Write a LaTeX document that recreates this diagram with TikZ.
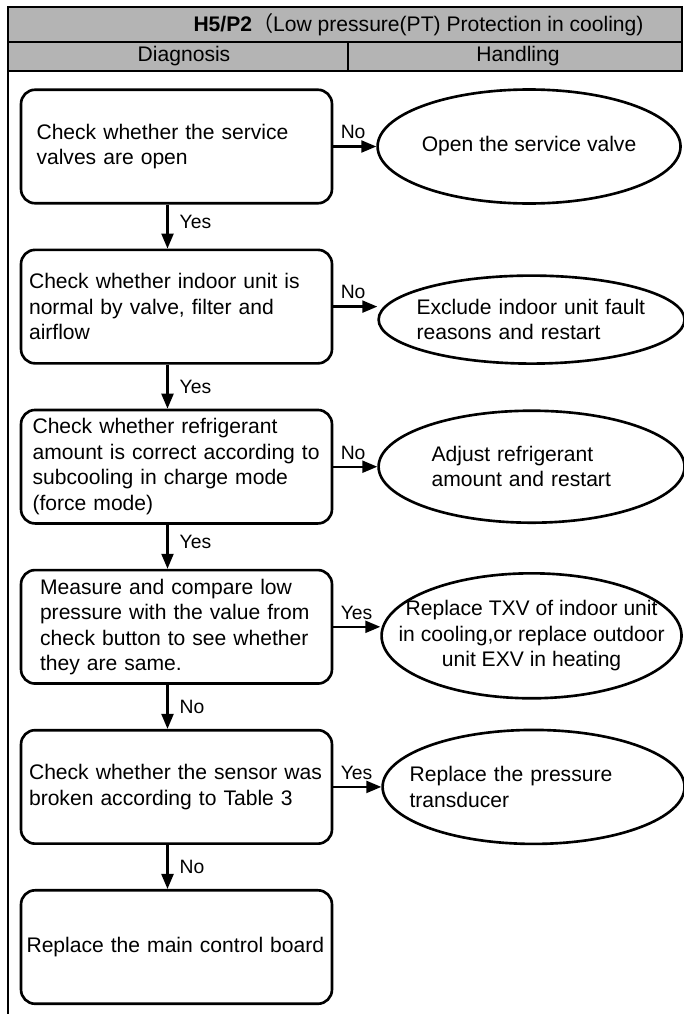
\documentclass[tikz,border=0pt]{standalone}
\usepackage{fontspec}
\setmainfont{Liberation Sans}
\newfontfamily\cjkfont{Noto Sans CJK SC}
\usepackage{xcolor}
\usepackage{tikz}
\usetikzlibrary{shapes.geometric, arrows.meta, positioning}
\definecolor{hdrgray}{RGB}{180,180,180}
\definecolor{mydark}{RGB}{0,0,0}
\tikzset{
  stepbox/.style={rectangle, draw=mydark, fill=white,
    text width=5.9cm, align=left, minimum width=6.22cm, minimum height=2.27cm,
    inner xsep=0.1cm, font=\fontsize{12}{14.5}\selectfont,
    rounded corners=8pt, line width=1.5pt},
  oval/.style={ellipse, draw=mydark, fill=white, inner xsep=-1cm, inner ysep=0pt,
    font=\fontsize{12}{14.5}\selectfont, line width=1.5pt},
  arrow/.style={-{Triangle[length=0.3cm,width=0.24cm]}, line width=1.3pt, color=mydark},
  lbl/.style={font=\fontsize{11}{13}\selectfont, inner sep=2pt},
  hdrtext/.style={font=\fontsize{12}{14}\selectfont},
  rule/.style={line width=1.4pt, color=mydark}
}

\begin{document}
\begin{tikzpicture}[x=0.02cm, y=-0.02cm]
  \useasboundingbox (0,0) rectangle (683,1014);
  % header table
  \filldraw[rule, fill=hdrgray] (8,7) rectangle (682,42);
  \filldraw[rule, fill=hdrgray] (8,42) rectangle (682,71);
  \draw[rule] (348,42) -- (348,71);
  \draw[rule] (8,71) -- (8,1014);
  \node[hdrtext] (title) at (418.5,24.5) {\textbf{H5/P2}{\cjkfont （}Low pressure(PT) Protection in cooling)};
  \node[hdrtext] (hdiag) at (184,56.5) {Diagnosis};
  \node[hdrtext] (hhand) at (518,56.5) {Handling};
  % diagnosis steps
  \node[stepbox, text width=5.6cm] (b1) at (176.5,146.5) {Check whether the service\\valves are open};
  \node[stepbox, below=0.88cm of b1] (b2) {Check whether indoor unit is\\normal by valve, filter and\\airflow};
  \node[stepbox, text width=5.76cm, below=0.88cm of b2] (b3) {Check whether refrigerant\\amount is correct according to\\subcooling in charge mode\\(force mode)};
  \node[stepbox, text width=5.46cm, below=0.88cm of b3] (b4) {Measure and compare low\\pressure with the value from\\check button to see whether\\they are same.};
  \node[stepbox, below=0.88cm of b4] (b5) {Check whether the sensor was\\broken according to Table 3};
  \node[stepbox, text width=6.0cm, below=0.88cm of b5] (b6) {Replace the main control board};
  % handling
  \node[oval, align=center, minimum width=6.06cm, minimum height=2.28cm, right=0.86cm of b1] (e1) {Open the service valve};
  \node[oval, text width=4.6cm, align=left, minimum width=6.12cm, minimum height=1.76cm, right=0.88cm of b2, yshift=-0.26cm] (e2) {Exclude indoor unit fault\\reasons and restart};
  \node[oval, text width=4.0cm, align=left, minimum width=6.12cm, minimum height=2.24cm, right=0.88cm of b3] (e3) {Adjust refrigerant\\amount and restart};
  \node[oval, align=center, minimum width=6.0cm, minimum height=2.5cm, right=0.94cm of b4, yshift=-0.18cm] (e4) {Replace TXV of indoor unit\\in cooling,or replace outdoor\\unit EXV in heating};
  \node[oval, text width=4.96cm, align=left, minimum width=6.04cm, minimum height=2.28cm, right=0.96cm of b5] (e5) {Replace the pressure\\transducer};
  % connectors
  \draw[arrow] ([xshift=-0.18cm]b1.south) -- node[lbl, right=0.15cm, pos=0.4] {Yes} ([xshift=-0.18cm]b2.north);
  \draw[arrow] ([xshift=-0.18cm]b2.south) -- node[lbl, right=0.15cm] {Yes} ([xshift=-0.18cm]b3.north);
  \draw[arrow] ([xshift=-0.18cm]b3.south) -- node[lbl, right=0.15cm, pos=0.4] {Yes} ([xshift=-0.18cm]b4.north);
  \draw[arrow] ([xshift=-0.18cm]b4.south) -- node[lbl, right=0.15cm] {No} ([xshift=-0.18cm]b5.north);
  \draw[arrow] ([xshift=-0.18cm]b5.south) -- node[lbl, right=0.15cm] {No} ([xshift=-0.18cm]b6.north);
  \draw[arrow] (b1.east) -- node[lbl, above right=0.08cm, pos=0] {No} (b1.east -| e1.west);
  \draw[arrow] (b2.east) -- node[lbl, above right=0.08cm, pos=0] {No} (b2.east -| e2.west);
  \draw[arrow] (b3.east) -- node[lbl, above right=0.08cm, pos=0] {No} (b3.east -| e3.west);
  \draw[arrow] (b4.east) -- node[lbl, above right=0.08cm, pos=0] {Yes} (b4.east -| e4.west);
  \draw[arrow] (b5.east) -- node[lbl, above right=0.08cm, pos=0] {Yes} (b5.east -| e5.west);
\end{tikzpicture}
\end{document}
